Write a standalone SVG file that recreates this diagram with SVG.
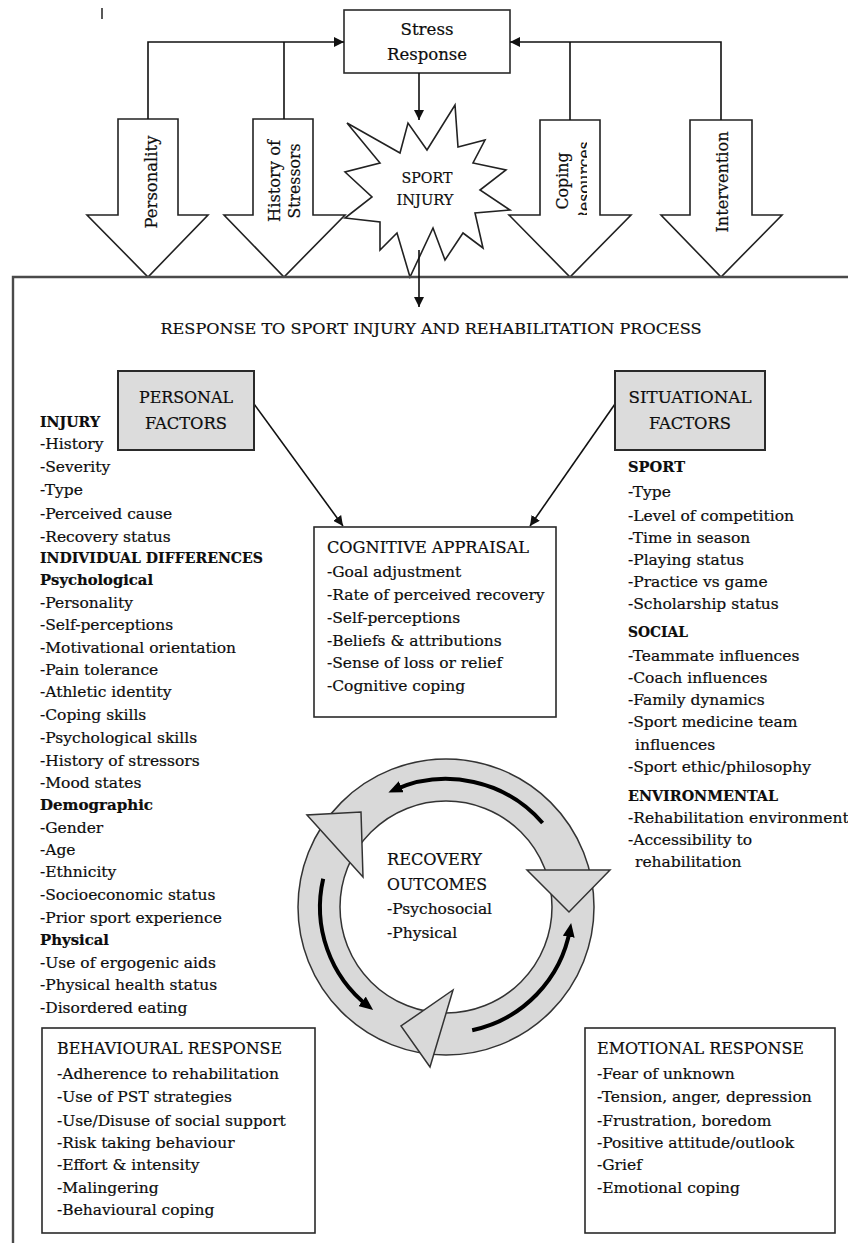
<svg xmlns="http://www.w3.org/2000/svg" width="848" height="1243" viewBox="0 0 848 1243">
  <style>
    .t { font-family: "DejaVu Serif", "Liberation Serif", serif; font-size: 15.5px; fill: #0d0d0d; stroke: #0d0d0d; stroke-width: 0.2; }
    .b { font-weight: bold; }
    .h { font-size: 16px; }
    .mid { text-anchor: middle; }
    .box { fill: #ffffff; stroke: #2a2a2a; stroke-width: 1.6; }
    .gbox { fill: #dcdcdc; stroke: #2a2a2a; stroke-width: 2; }
    .blk { fill: #ffffff; stroke: #222222; stroke-width: 1.6; stroke-linejoin: miter; }
    .conn { fill: none; stroke: #111111; stroke-width: 1.6; }
    .cyc { fill: #d9d9d9; stroke: #333333; stroke-width: 1.5; }
    .spin { fill: none; stroke: #000000; stroke-width: 4; }
  </style>
  <defs>
    <marker id="ah" markerUnits="userSpaceOnUse" markerWidth="10" markerHeight="10" refX="10" refY="5" orient="auto">
      <path d="M0,0 L10,5 L0,10 Z" fill="#111111"/>
    </marker>
    <marker id="ch" markerUnits="userSpaceOnUse" markerWidth="14" markerHeight="12" refX="8" refY="6" orient="auto">
      <path d="M0,0 L14,6 L0,12 Z" fill="#000000"/>
    </marker>
    <clipPath id="resClip">
      <rect x="540" y="120" width="47" height="95"/>
    </clipPath>
  </defs>

  <rect width="848" height="1243" fill="#ffffff"/>

  <!-- small tick at top left -->
  <line x1="102" y1="8" x2="102" y2="19" stroke="#222" stroke-width="1.5"/>

  <!-- influence arrows -->
  <g id="personality">
    <path class="blk" d="M118,119 H178 V215 H208 L148,277 L87,215 H118 Z"/>
    <text class="t h mid" transform="translate(157,182) rotate(-90)" textLength="93" lengthAdjust="spacingAndGlyphs">Personality</text>
  </g>
  <g id="history-of-stressors">
    <path class="blk" d="M253,119 H313 V215 H345 L284,277 L224,215 H253 Z"/>
    <text class="t h mid" transform="translate(280,181) rotate(-90)" textLength="82" lengthAdjust="spacingAndGlyphs">History of</text>
    <text class="t h mid" transform="translate(300,181) rotate(-90)" textLength="75" lengthAdjust="spacingAndGlyphs">Stressors</text>
  </g>
  <g id="coping-resources">
    <path class="blk" d="M540,120 H600 V215 H631 L570,277 L509,215 H540 Z"/>
    <text class="t h mid" transform="translate(568,181) rotate(-90)" textLength="57" lengthAdjust="spacingAndGlyphs">Coping</text>
    <g clip-path="url(#resClip)">
      <text class="t h mid" transform="translate(590,182) rotate(-90)" textLength="81" lengthAdjust="spacingAndGlyphs">Resources</text>
    </g>
  </g>
  <g id="intervention">
    <path class="blk" d="M690,120 H752 V215 H782 L721,277 L661,215 H690 Z"/>
    <text class="t h mid" transform="translate(728,182) rotate(-90)" textLength="101" lengthAdjust="spacingAndGlyphs">Intervention</text>
  </g>

  <!-- stress response -->
  <g id="stress-response">
    <rect class="box" x="344" y="10" width="166" height="63"/>
    <text class="t h mid" x="427" y="35" textLength="53" lengthAdjust="spacingAndGlyphs">Stress</text>
    <text class="t h mid" x="427" y="60" textLength="80" lengthAdjust="spacingAndGlyphs">Response</text>
  </g>

  <!-- sport injury burst -->
  <g id="sport-injury">
    <polygon class="blk" points="347,123 400,153 408,123 427,150 455,105 458,147 485,140 473,163 506,170 480,190 510,210 475,213 483,248 463,233 445,260 433,228 410,277 397,233 380,250 380,222 345,218 372,197 345,172 380,163"/>
    <text class="t mid" style="font-size:15px" x="427" y="183" textLength="51" lengthAdjust="spacingAndGlyphs">SPORT</text>
    <text class="t mid" style="font-size:15px" x="425" y="205" textLength="57" lengthAdjust="spacingAndGlyphs">INJURY</text>
  </g>

  <!-- process frame -->
  <path d="M13,1243 V277 H848" fill="none" stroke="#4a4a4a" stroke-width="2.4"/>

  <text id="process-title" class="t mid" style="font-size:15px" x="431" y="334" textLength="541" lengthAdjust="spacingAndGlyphs">RESPONSE TO SPORT INJURY AND REHABILITATION PROCESS</text>

  <!-- connectors -->
  <g id="connectors">
    <path class="conn" d="M148,119 V42 H344" marker-end="url(#ah)"/>
    <path class="conn" d="M284,119 V42"/>
    <path class="conn" d="M721,120 V42 H510" marker-end="url(#ah)"/>
    <path class="conn" d="M570,120 V42"/>
    <path class="conn" d="M419,73 V120" marker-end="url(#ah)"/>
    <path class="conn" d="M419,250 V307" marker-end="url(#ah)"/>
    <path class="conn" d="M254,404 L343,526" marker-end="url(#ah)"/>
    <path class="conn" d="M615,404 L530,526" marker-end="url(#ah)"/>
  </g>

  <!-- personal factors -->
  <g id="personal-factors">
    <rect class="gbox" x="118" y="371" width="136" height="79"/>
    <text class="t h mid" x="186" y="403" textLength="94" lengthAdjust="spacingAndGlyphs">PERSONAL</text>
    <text class="t h mid" x="186" y="429" textLength="82" lengthAdjust="spacingAndGlyphs">FACTORS</text>
  </g>
  <g id="personal-list">
    <text class="t b" x="40" y="427" textLength="60" lengthAdjust="spacingAndGlyphs">INJURY</text>
    <text class="t" x="40" y="449">-History</text>
    <text class="t" x="40" y="472">-Severity</text>
    <text class="t" x="40" y="495">-Type</text>
    <text class="t" x="40" y="519">-Perceived cause</text>
    <text class="t" x="40" y="542">-Recovery status</text>
    <text class="t b" x="40" y="563" textLength="223" lengthAdjust="spacingAndGlyphs">INDIVIDUAL DIFFERENCES</text>
    <text class="t b" x="40" y="585" textLength="113" lengthAdjust="spacingAndGlyphs">Psychological</text>
    <text class="t" x="40" y="608">-Personality</text>
    <text class="t" x="40" y="630">-Self-perceptions</text>
    <text class="t" x="40" y="653">-Motivational orientation</text>
    <text class="t" x="40" y="675">-Pain tolerance</text>
    <text class="t" x="40" y="697">-Athletic identity</text>
    <text class="t" x="40" y="720">-Coping skills</text>
    <text class="t" x="40" y="743">-Psychological skills</text>
    <text class="t" x="40" y="766">-History of stressors</text>
    <text class="t" x="40" y="788">-Mood states</text>
    <text class="t b" x="40" y="810" textLength="113" lengthAdjust="spacingAndGlyphs">Demographic</text>
    <text class="t" x="40" y="833">-Gender</text>
    <text class="t" x="40" y="855">-Age</text>
    <text class="t" x="40" y="877">-Ethnicity</text>
    <text class="t" x="40" y="900">-Socioeconomic status</text>
    <text class="t" x="40" y="923">-Prior sport experience</text>
    <text class="t b" x="40" y="945" textLength="69" lengthAdjust="spacingAndGlyphs">Physical</text>
    <text class="t" x="40" y="968">-Use of ergogenic aids</text>
    <text class="t" x="40" y="990">-Physical health status</text>
    <text class="t" x="40" y="1013">-Disordered eating</text>
  </g>

  <!-- situational factors -->
  <g id="situational-factors">
    <rect class="gbox" x="615" y="371" width="150" height="79"/>
    <text class="t h mid" x="690" y="403" textLength="123" lengthAdjust="spacingAndGlyphs">SITUATIONAL</text>
    <text class="t h mid" x="690" y="429" textLength="82" lengthAdjust="spacingAndGlyphs">FACTORS</text>
  </g>
  <g id="situational-list">
    <text class="t b" x="628" y="472" textLength="57" lengthAdjust="spacingAndGlyphs">SPORT</text>
    <text class="t" x="628" y="497">-Type</text>
    <text class="t" x="628" y="521">-Level of competition</text>
    <text class="t" x="628" y="543">-Time in season</text>
    <text class="t" x="628" y="565">-Playing status</text>
    <text class="t" x="628" y="587">-Practice vs game</text>
    <text class="t" x="628" y="609">-Scholarship status</text>
    <text class="t b" x="628" y="637" textLength="60" lengthAdjust="spacingAndGlyphs">SOCIAL</text>
    <text class="t" x="628" y="661">-Teammate influences</text>
    <text class="t" x="628" y="683">-Coach influences</text>
    <text class="t" x="628" y="705">-Family dynamics</text>
    <text class="t" x="628" y="727">-Sport medicine team</text>
    <text class="t" x="635" y="750">influences</text>
    <text class="t" x="628" y="772">-Sport ethic/philosophy</text>
    <text class="t b" x="628" y="801" textLength="150" lengthAdjust="spacingAndGlyphs">ENVIRONMENTAL</text>
    <text class="t" x="628" y="823">-Rehabilitation environment</text>
    <text class="t" x="628" y="845">-Accessibility to</text>
    <text class="t" x="635" y="867">rehabilitation</text>
  </g>

  <!-- cognitive appraisal -->
  <g id="cognitive-appraisal">
    <rect class="box" x="314" y="527" width="242" height="190"/>
    <text class="t h" x="327" y="553" textLength="202" lengthAdjust="spacingAndGlyphs">COGNITIVE APPRAISAL</text>
    <text class="t" x="327" y="577">-Goal adjustment</text>
    <text class="t" x="327" y="600">-Rate of perceived recovery</text>
    <text class="t" x="327" y="623">-Self-perceptions</text>
    <text class="t" x="327" y="646">-Beliefs &amp; attributions</text>
    <text class="t" x="327" y="668">-Sense of loss or relief</text>
    <text class="t" x="327" y="691">-Cognitive coping</text>
  </g>

  <!-- recovery cycle -->
  <g id="recovery-cycle">
    <path class="cyc" fill-rule="evenodd" d="M594,907 A148,148 0 1 0 298,907 A148,148 0 1 0 594,907 Z M552,907 A106,106 0 1 0 340,907 A106,106 0 1 0 552,907 Z"/>
    <polygon class="cyc" points="527,870 610,870 569,912"/>
    <polygon class="cyc" points="453,990 430,1067 401,1026"/>
    <polygon class="cyc" points="307,815 363,877 361,812"/>
    <path class="spin" d="M542.6,823 A128,128 0 0 0 393.9,790.1" marker-end="url(#ch)"/>
    <path class="spin" d="M323.2,878.7 A126,126 0 0 0 368.4,1006.3" marker-end="url(#ch)"/>
    <path class="spin" d="M472.2,1030.2 A126,126 0 0 0 570.1,928.9" marker-end="url(#ch)"/>
    <text class="t h" x="387" y="865" textLength="95" lengthAdjust="spacingAndGlyphs">RECOVERY</text>
    <text class="t h" x="387" y="890" textLength="100" lengthAdjust="spacingAndGlyphs">OUTCOMES</text>
    <text class="t" x="387" y="914">-Psychosocial</text>
    <text class="t" x="387" y="938">-Physical</text>
  </g>

  <!-- behavioural response -->
  <g id="behavioural-response">
    <rect class="box" x="42" y="1028" width="273" height="205"/>
    <text class="t h" x="57" y="1054" textLength="225" lengthAdjust="spacingAndGlyphs">BEHAVIOURAL RESPONSE</text>
    <text class="t" x="57" y="1079">-Adherence to rehabilitation</text>
    <text class="t" x="57" y="1102">-Use of PST strategies</text>
    <text class="t" x="57" y="1126">-Use/Disuse of social support</text>
    <text class="t" x="57" y="1148">-Risk taking behaviour</text>
    <text class="t" x="57" y="1170">-Effort &amp; intensity</text>
    <text class="t" x="57" y="1193">-Malingering</text>
    <text class="t" x="57" y="1215">-Behavioural coping</text>
  </g>

  <!-- emotional response -->
  <g id="emotional-response">
    <rect class="box" x="585" y="1028" width="250" height="205"/>
    <text class="t h" x="597" y="1054" textLength="207" lengthAdjust="spacingAndGlyphs">EMOTIONAL RESPONSE</text>
    <text class="t" x="597" y="1079">-Fear of unknown</text>
    <text class="t" x="597" y="1102">-Tension, anger, depression</text>
    <text class="t" x="597" y="1126">-Frustration, boredom</text>
    <text class="t" x="597" y="1148">-Positive attitude/outlook</text>
    <text class="t" x="597" y="1170">-Grief</text>
    <text class="t" x="597" y="1193">-Emotional coping</text>
  </g>
</svg>
